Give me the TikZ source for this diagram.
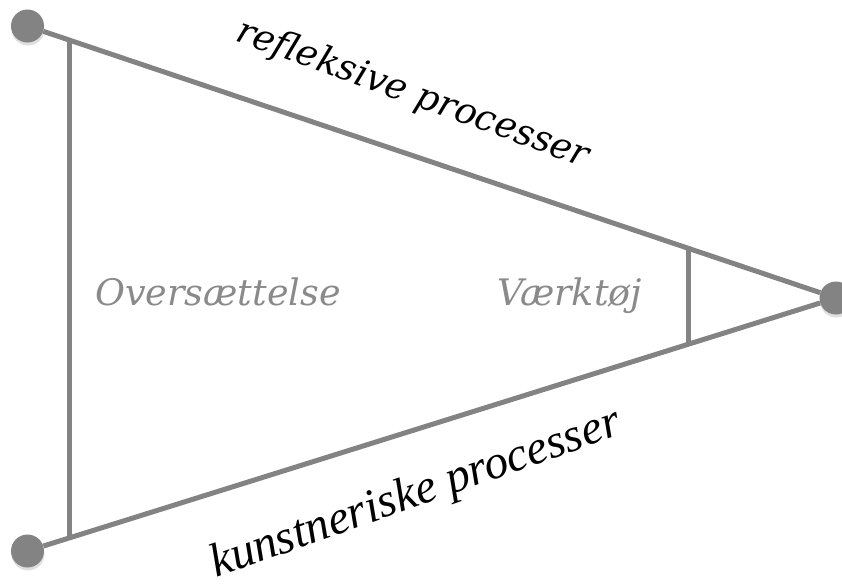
\documentclass[tikz,border=0pt]{standalone}
\usepackage{fontspec}
\setmainfont{DejaVu Serif}
\newfontfamily\bottomfont{Liberation Serif}
\usetikzlibrary{calc,shadows}
\definecolor{linegray}{HTML}{838383}
\definecolor{textgray}{HTML}{8A8A8A}
\tikzset{
  dot/.style={circle,fill=linegray,inner sep=0pt,minimum size=33pt,
    drop shadow={shadow xshift=0.5pt,shadow yshift=-3pt,opacity=0.25}},
  edge/.style={draw=linegray,line width=5pt},
  lbl/.style={inner sep=0pt,font=\fontsize{36.5}{42}\selectfont\itshape}
}

\begin{document}
\begin{tikzpicture}[x=1pt,y=-1pt]
            \useasboundingbox (0,0) rectangle (842,587);
            \node[dot] (tl) at (27.5,26) {};
            \node[dot] (bl) at (27.5,551) {};
            \node[dot] (rt) at (836,298) {};

            \coordinate (lt) at ($(tl)!0.052!(rt)$);
            \coordinate (lb) at ($(bl)!0.052!(rt)$);
            \coordinate (rtt) at ($(tl)!0.817!(rt)$);
            \coordinate (rtb) at ($(bl)!0.817!(rt)$);

            \draw[edge] (tl) -- (rt);
            \draw[edge] (bl) -- (rt);
            \draw[edge] (lt) -- (lb);
            \draw[edge] (rtt) -- (rtb);

            \node[lbl,anchor=base west,rotate=-20] (refl) at (234,40) {refleksive processer};
            \node[lbl,anchor=base west,rotate=19.5,font=\fontsize{47.5}{52}\selectfont\bottomfont\itshape] (kunst) at (216,578) {kunstneriske processer};
            \node[lbl,anchor=base west,text=textgray] (overs) at (95,305) {Oversættelse};
            \node[lbl,anchor=base west,text=textgray] (vaerk) at (497,305) {Værktøj};
        \end{tikzpicture}
\end{document}
